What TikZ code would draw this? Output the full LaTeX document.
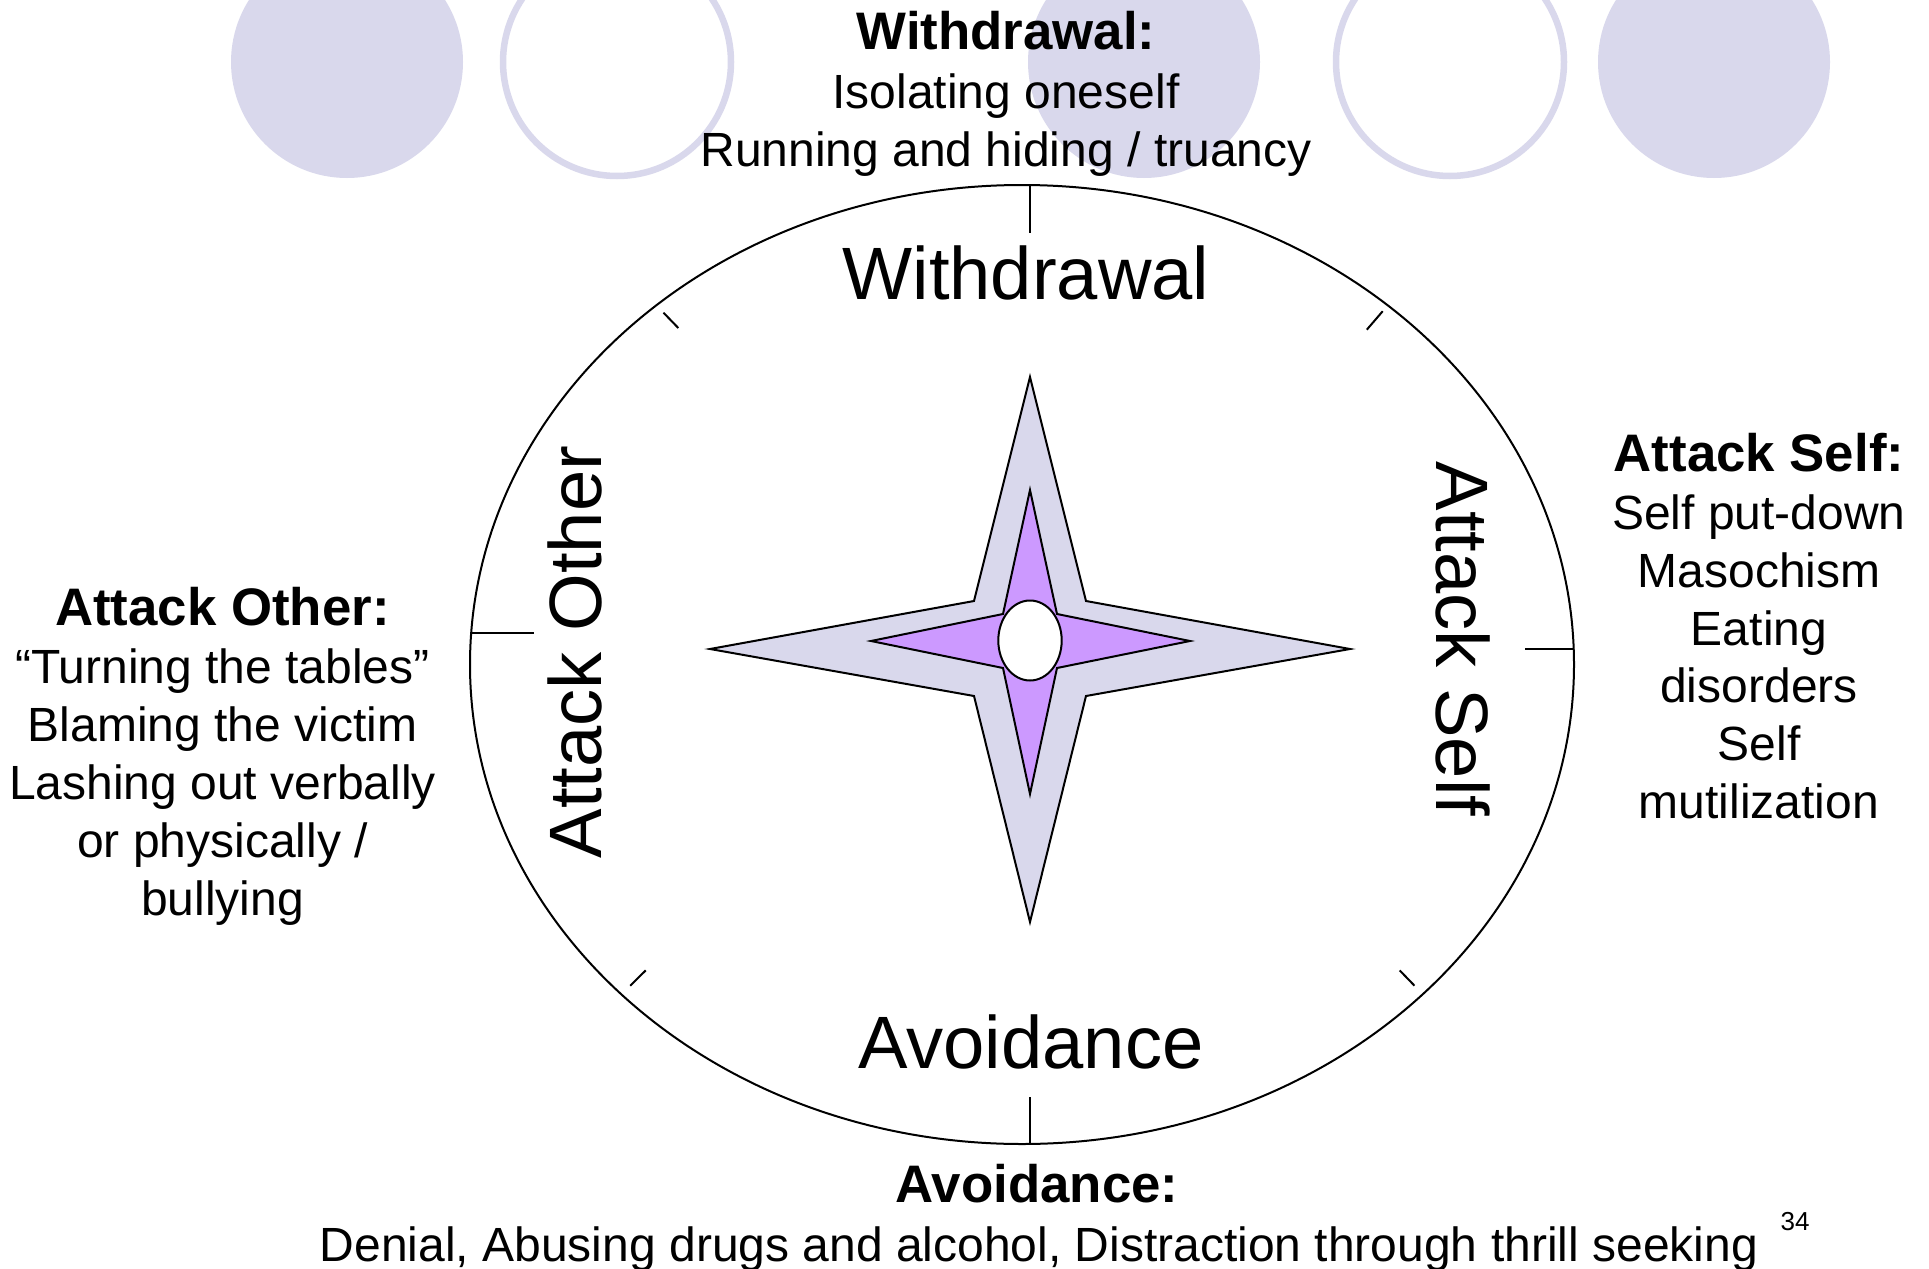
\documentclass[tikz,border=0pt]{standalone}
\usepackage{fontspec}
\setmainfont{Liberation Sans}
\definecolor{lav}{RGB}{217,216,236}
\definecolor{purp}{RGB}{204,153,255}
\begin{document}
\begin{tikzpicture}[x=0.5pt,y=-0.5pt,
  big/.style={font=\fontsize{37.1}{44}\selectfont, anchor=base, inner sep=0pt},
  head/.style={font=\bfseries\fontsize{26.4}{31}\selectfont, anchor=base, inner sep=0pt},
  txt/.style={font=\fontsize{24}{29}\selectfont, anchor=base, inner sep=0pt},
  pnum/.style={font=\fontsize{13}{15}\selectfont, anchor=base, inner sep=0pt},
  tickln/.style={line width=1pt, line cap=butt},
  outline/.style={draw=black, line width=1pt, line join=miter},
  ringc/.style={draw=lav, line width=3.25pt}]
\useasboundingbox (0,0) rectangle (1929,1269);
\fill[white] (0,0) rectangle (1929,1269);
% decorative circles at the top
\begin{scope}
  \clip (0,0) rectangle (1929,1269);
  \fill[lav] (347,62) circle[radius=116];
  \draw[ringc] (617,62) circle[radius=114];
  \fill[lav] (1144,62) circle[radius=116];
  \draw[ringc] (1450,62) circle[radius=114];
  \fill[lav] (1714,62) circle[radius=116];
\end{scope}
% compass ellipse
\draw[line width=1pt] (1022,664.5) ellipse[x radius=552, y radius=479.5];
% ticks
\draw[tickln] (1030,185) -- (1030,233);
\draw[tickln] (1030,1144) -- (1030,1097);
\draw[tickln] (470,633) -- (534,633);
\draw[tickln] (1574,649) -- (1525,649);
\draw[tickln] (663.5,312.7) -- (678.3,328);
\draw[tickln] (1382.7,311.2) -- (1366.8,329.7);
\draw[tickln] (630.2,985.7) -- (645.7,970.4);
\draw[tickln] (1414.5,985.7) -- (1399.7,970.4);
% star
\draw[outline, fill=lav] (1030,377) -- (1086,601) -- (1350,649) -- (1086,696)
  -- (1030,922) -- (974,696) -- (710,649) -- (974,601) -- cycle;
\draw[outline, fill=purp] (1030,490) -- (1057,614) -- (1190,641) -- (1057,668)
  -- (1030,794) -- (1003,668) -- (871,641) -- (1003,614) -- cycle;
\draw[outline, fill=white] (1030,640.5) ellipse[x radius=31.7, y radius=40];
% compass labels
\node[big] (nW) at (1026,299) {Withdrawal};
\node[big] (nA) at (1031,1068) {Avoidance};
\node[big, rotate=90] (nO) at (601,652) {Attack Other};
\node[big, rotate=-90] (nS) at (1436,639) {Attack Self};
% top block
\node[head] (t1) at (1006,49) {Withdrawal:};
\node[txt] (t2) at (1006,108) {Isolating oneself};
\node[txt] (t3) at (1006,166) {Running and hiding / truancy};
% left block
\node[head] (l1) at (222.5,625) {Attack Other:};
\node[txt] (l2) at (222.5,683) {“Turning the tables”};
\node[txt] (l3) at (222.5,741) {Blaming the victim};
\node[txt] (l4) at (222.5,799) {Lashing out verbally};
\node[txt] (l5) at (222.5,857) {or physically /};
\node[txt] (l6) at (222.5,915) {bullying};
% right block
\node[head] (r1) at (1759,471) {Attack Self:};
\node[txt] (r2) at (1759,529) {Self put-down};
\node[txt] (r3) at (1759,587) {Masochism};
\node[txt] (r4) at (1759,645) {Eating};
\node[txt] (r5) at (1759,702) {disorders};
\node[txt] (r6) at (1759,760) {Self};
\node[txt] (r7) at (1759,818) {mutilization};
% bottom block
\node[head] (b1) at (1037,1202) {Avoidance:};
\node[txt] (b2) at (1039,1261) {Denial, Abusing drugs and alcohol, Distraction through thrill seeking};
\node[pnum] (pg) at (1795,1230) {34};
\end{tikzpicture}
\end{document}
